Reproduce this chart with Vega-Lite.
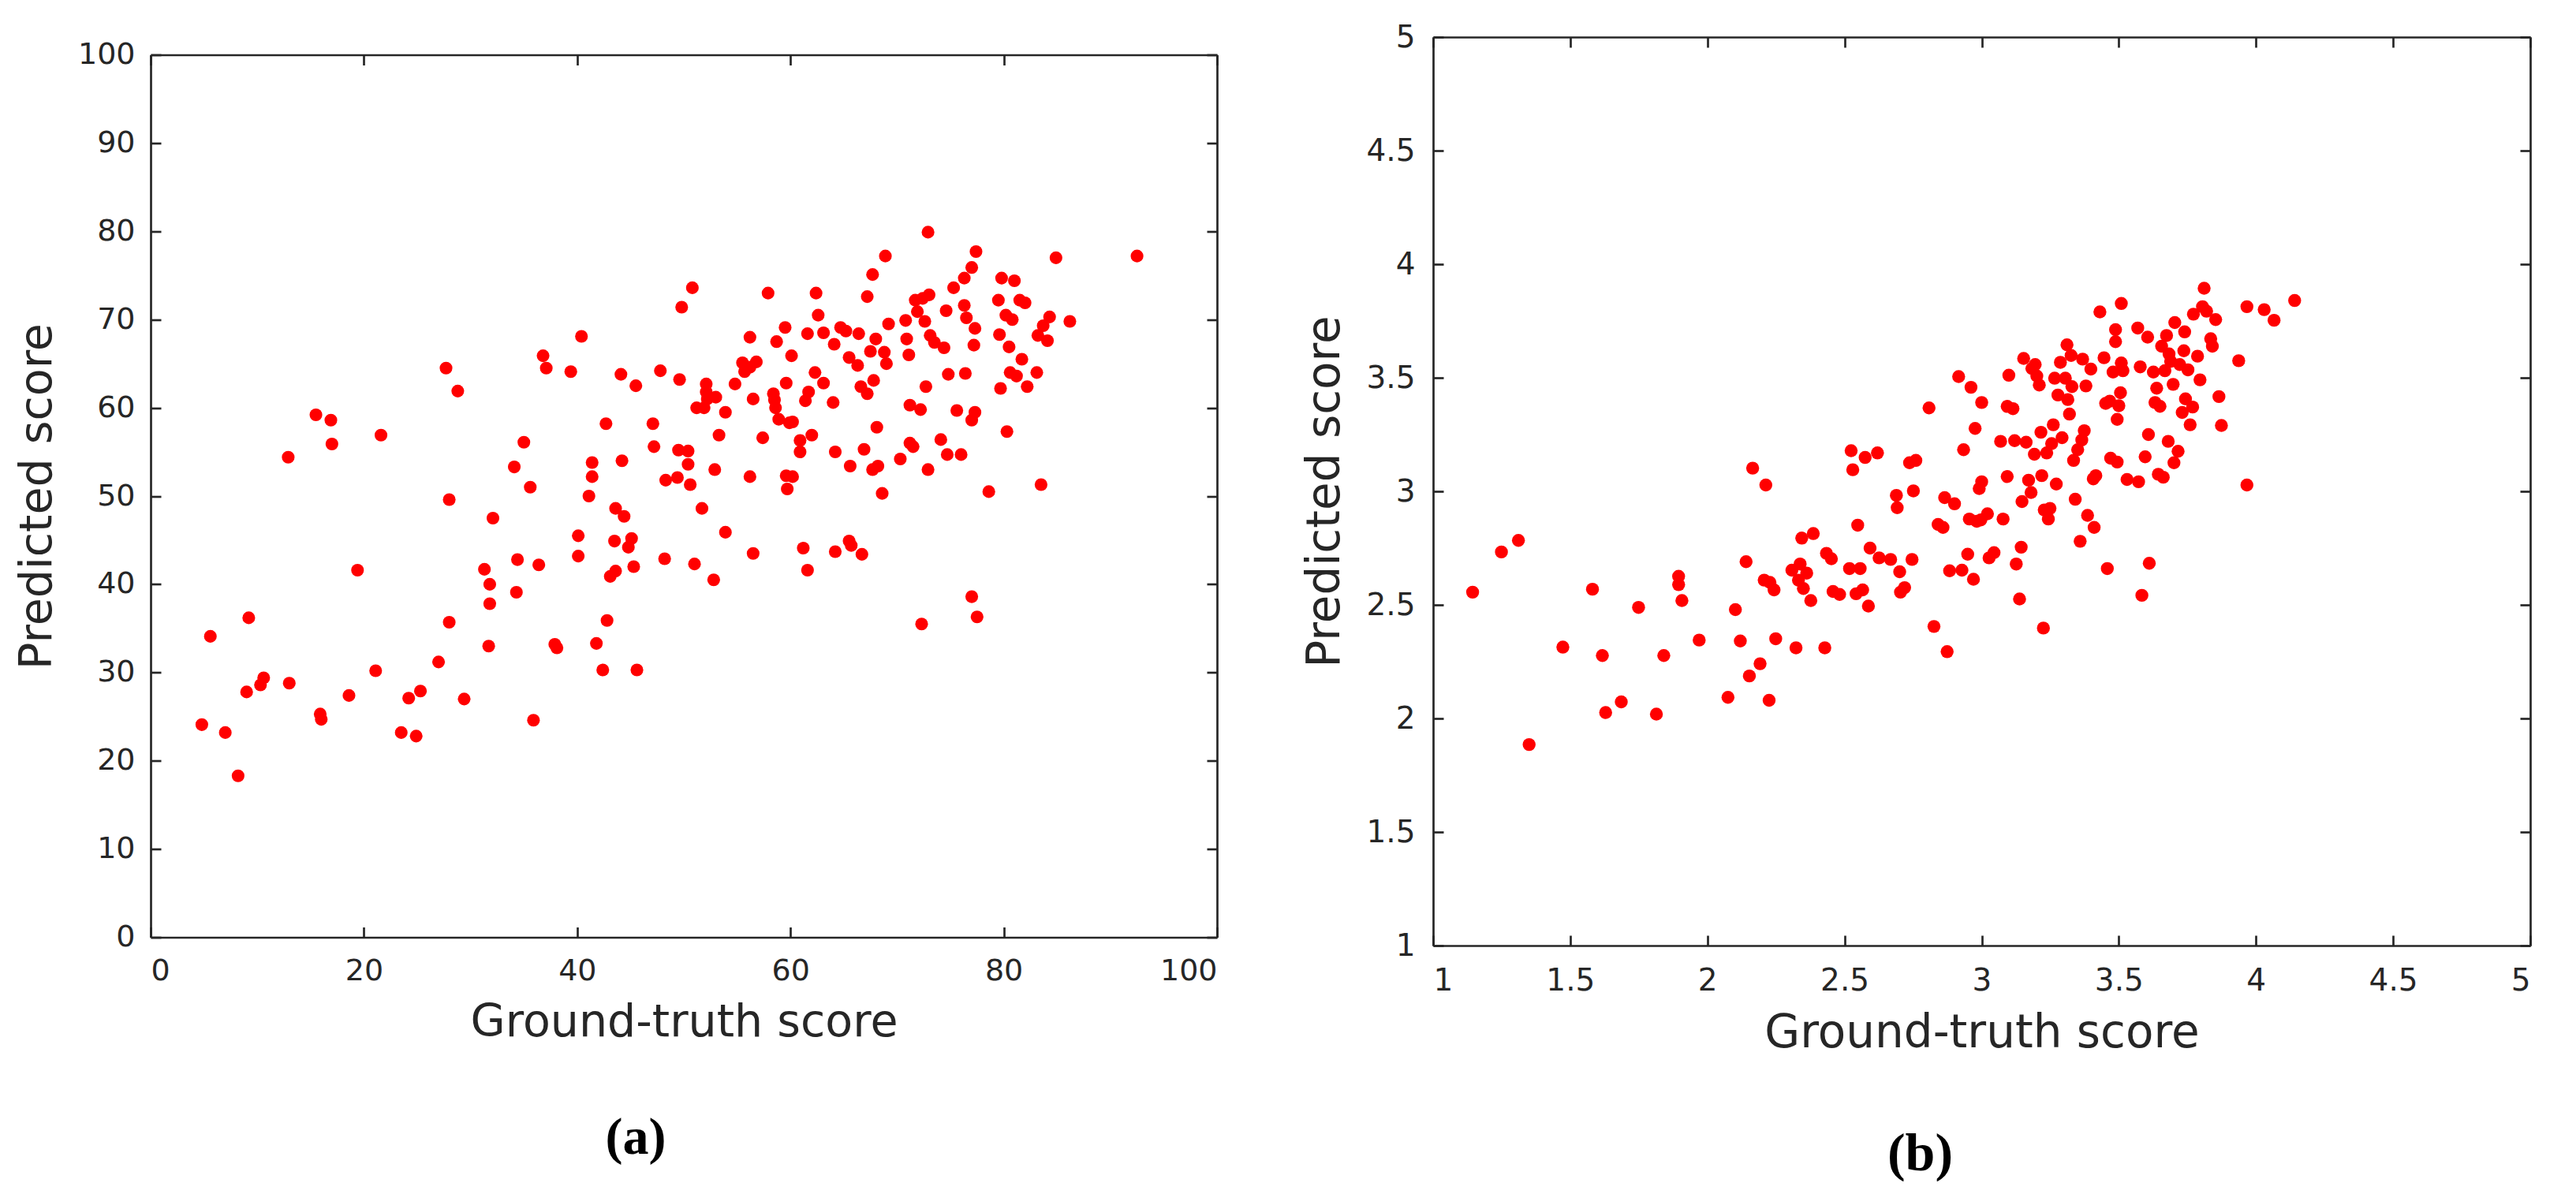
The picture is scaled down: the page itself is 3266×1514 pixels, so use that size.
{
  "$schema": "https://vega.github.io/schema/vega-lite/v6.json",
  "background": "white",
  "padding": {"left": 18, "top": 28, "right": 0, "bottom": 0},
  "spacing": 106,
  "center": true,
  "config": {
    "view": {"stroke": null},
    "axis": {
      "domainColor": "#262626", "domainWidth": 2.7, "tickColor": "#262626", "tickWidth": 2.7,
      "labelColor": "#262626", "titleColor": "#262626", "labelFont": "DejaVu Sans", "titleFont": "DejaVu Sans",
      "titleFontWeight": "normal", "grid": false, "tickSize": -13
    }
  },
  "datasets": {
    "a": [
      {"gt":4.8,"pred":24.1},{"gt":5.6,"pred":34.1},{"gt":7.0,"pred":23.2},{"gt":8.2,"pred":18.3},{"gt":9.2,"pred":36.2},{"gt":9.0,"pred":27.8},{"gt":10.3,"pred":28.6},{"gt":10.6,"pred":29.4},{"gt":12.9,"pred":54.4},{"gt":13.0,"pred":28.8},
      {"gt":15.5,"pred":59.2},{"gt":15.9,"pred":25.3},{"gt":16.0,"pred":24.7},{"gt":16.9,"pred":58.6},{"gt":17.0,"pred":55.9},{"gt":18.6,"pred":27.4},{"gt":19.4,"pred":41.6},{"gt":21.1,"pred":30.2},{"gt":21.6,"pred":56.9},{"gt":23.5,"pred":23.2},
      {"gt":24.2,"pred":27.1},{"gt":24.9,"pred":22.8},{"gt":25.3,"pred":27.9},{"gt":27.0,"pred":31.2},{"gt":27.7,"pred":64.5},{"gt":28.0,"pred":35.7},{"gt":28.0,"pred":49.6},{"gt":28.8,"pred":61.9},{"gt":29.4,"pred":27.0},{"gt":31.3,"pred":41.7},
      {"gt":31.7,"pred":33.0},{"gt":31.8,"pred":40.0},{"gt":31.8,"pred":37.8},{"gt":32.1,"pred":47.5},{"gt":34.1,"pred":53.3},{"gt":34.3,"pred":39.1},{"gt":34.4,"pred":42.8},{"gt":35.0,"pred":56.1},{"gt":35.6,"pred":51.0},{"gt":35.9,"pred":24.6},
      {"gt":36.4,"pred":42.2},{"gt":36.8,"pred":65.9},{"gt":37.1,"pred":64.5},{"gt":37.9,"pred":33.2},{"gt":38.1,"pred":32.8},{"gt":39.4,"pred":64.1},{"gt":40.1,"pred":45.5},{"gt":40.1,"pred":43.2},{"gt":40.4,"pred":68.1},{"gt":41.1,"pred":50.0},
      {"gt":41.4,"pred":53.8},{"gt":41.4,"pred":52.2},{"gt":41.8,"pred":33.3},{"gt":42.4,"pred":30.3},{"gt":42.7,"pred":58.2},{"gt":42.8,"pred":35.9},{"gt":43.1,"pred":40.9},{"gt":43.5,"pred":44.9},{"gt":43.6,"pred":41.5},{"gt":43.6,"pred":48.6},
      {"gt":44.1,"pred":63.8},{"gt":44.2,"pred":54.0},{"gt":44.4,"pred":47.7},{"gt":44.8,"pred":44.2},{"gt":45.1,"pred":45.2},{"gt":45.3,"pred":42.0},{"gt":45.5,"pred":62.5},{"gt":45.6,"pred":30.3},{"gt":47.1,"pred":58.2},{"gt":47.2,"pred":55.6},
      {"gt":47.8,"pred":64.2},{"gt":48.2,"pred":42.9},{"gt":48.3,"pred":51.8},{"gt":49.4,"pred":52.1},{"gt":49.5,"pred":55.2},{"gt":49.6,"pred":63.2},{"gt":49.8,"pred":71.4},{"gt":50.4,"pred":55.1},{"gt":50.4,"pred":53.6},{"gt":50.6,"pred":51.3},
      {"gt":50.8,"pred":73.6},{"gt":51.0,"pred":42.3},{"gt":51.2,"pred":60.0},{"gt":51.7,"pred":48.6},{"gt":52.1,"pred":62.7},{"gt":52.1,"pred":61.8},{"gt":52.2,"pred":61.0},{"gt":51.9,"pred":60.0},{"gt":52.8,"pred":40.5},{"gt":52.9,"pred":53.0},
      {"gt":53.0,"pred":61.2},{"gt":53.3,"pred":56.9},{"gt":53.9,"pred":59.5},{"gt":53.9,"pred":45.9},{"gt":54.8,"pred":62.7},{"gt":55.5,"pred":65.1},{"gt":55.7,"pred":64.1},{"gt":56.2,"pred":64.6},{"gt":56.2,"pred":68.0},{"gt":56.2,"pred":52.2},
      {"gt":56.5,"pred":61.0},{"gt":56.5,"pred":43.5},{"gt":56.8,"pred":65.2},{"gt":57.4,"pred":56.6},{"gt":57.9,"pred":73.0},{"gt":58.4,"pred":61.6},{"gt":58.5,"pred":60.9},{"gt":58.6,"pred":60.0},{"gt":58.7,"pred":67.5},{"gt":58.9,"pred":58.7},
      {"gt":59.5,"pred":69.1},{"gt":59.6,"pred":62.8},{"gt":59.6,"pred":52.3},{"gt":59.7,"pred":50.8},{"gt":59.9,"pred":58.3},{"gt":60.1,"pred":65.9},{"gt":60.2,"pred":58.4},{"gt":60.2,"pred":52.2},{"gt":60.9,"pred":56.3},{"gt":60.9,"pred":55.0},
      {"gt":61.2,"pred":44.1},{"gt":61.4,"pred":60.8},{"gt":61.6,"pred":68.4},{"gt":61.6,"pred":41.6},{"gt":61.7,"pred":61.8},{"gt":62.0,"pred":56.9},{"gt":62.3,"pred":64.0},{"gt":62.4,"pred":73.0},{"gt":62.6,"pred":70.5},{"gt":63.1,"pred":68.5},
      {"gt":63.1,"pred":62.8},{"gt":64.1,"pred":67.2},{"gt":64.0,"pred":60.6},{"gt":64.2,"pred":55.0},{"gt":64.2,"pred":43.7},{"gt":64.7,"pred":69.1},{"gt":65.2,"pred":68.7},{"gt":65.5,"pred":65.7},{"gt":65.6,"pred":53.4},{"gt":65.5,"pred":44.9},
      {"gt":65.7,"pred":44.4},{"gt":66.3,"pred":64.8},{"gt":66.4,"pred":68.4},{"gt":66.6,"pred":62.4},{"gt":66.7,"pred":43.4},{"gt":66.9,"pred":55.3},{"gt":67.2,"pred":72.6},{"gt":67.2,"pred":61.6},{"gt":67.5,"pred":66.4},{"gt":67.7,"pred":75.1},
      {"gt":67.8,"pred":63.1},{"gt":67.7,"pred":53.0},{"gt":68.0,"pred":67.8},{"gt":68.1,"pred":57.8},{"gt":68.2,"pred":53.4},{"gt":68.6,"pred":50.3},{"gt":68.9,"pred":77.2},{"gt":68.8,"pred":66.3},{"gt":69.0,"pred":65.0},{"gt":69.2,"pred":69.5},
      {"gt":70.3,"pred":54.2},{"gt":70.9,"pred":67.8},{"gt":70.8,"pred":69.9},{"gt":71.1,"pred":66.0},{"gt":71.2,"pred":60.3},{"gt":71.2,"pred":56.0},{"gt":71.5,"pred":55.6},{"gt":71.7,"pred":72.2},{"gt":71.9,"pred":70.9},{"gt":72.2,"pred":59.8},
      {"gt":72.3,"pred":35.5},{"gt":72.4,"pred":72.4},{"gt":72.6,"pred":69.8},{"gt":72.7,"pred":62.4},{"gt":72.9,"pred":79.9},{"gt":72.9,"pred":53.0},{"gt":73.0,"pred":72.8},{"gt":73.1,"pred":68.2},{"gt":73.5,"pred":67.4},{"gt":74.1,"pred":56.4},
      {"gt":74.4,"pred":66.8},{"gt":74.6,"pred":71.0},{"gt":74.7,"pred":54.7},{"gt":74.8,"pred":63.8},{"gt":75.3,"pred":73.6},{"gt":75.6,"pred":59.7},{"gt":76.0,"pred":54.7},{"gt":76.3,"pred":71.6},{"gt":76.3,"pred":74.7},{"gt":76.4,"pred":63.9},
      {"gt":76.5,"pred":70.2},{"gt":77.0,"pred":58.6},{"gt":77.0,"pred":38.6},{"gt":77.0,"pred":75.9},{"gt":77.2,"pred":67.1},{"gt":77.3,"pred":69.0},{"gt":77.3,"pred":59.5},{"gt":77.4,"pred":77.7},{"gt":77.5,"pred":36.3},{"gt":78.6,"pred":50.5},
      {"gt":79.5,"pred":72.2},{"gt":79.6,"pred":68.3},{"gt":79.7,"pred":62.2},{"gt":79.8,"pred":74.7},{"gt":80.2,"pred":70.5},{"gt":80.3,"pred":57.3},{"gt":80.5,"pred":66.9},{"gt":80.6,"pred":64.0},{"gt":80.8,"pred":70.0},{"gt":81.0,"pred":74.4},
      {"gt":81.2,"pred":63.6},{"gt":81.5,"pred":72.2},{"gt":81.7,"pred":65.5},{"gt":82.0,"pred":71.9},{"gt":82.2,"pred":62.4},{"gt":83.1,"pred":64.0},{"gt":83.2,"pred":68.2},{"gt":83.5,"pred":51.3},{"gt":83.7,"pred":69.3},{"gt":84.1,"pred":67.6},
      {"gt":84.3,"pred":70.3},{"gt":84.9,"pred":77.0},{"gt":86.2,"pred":69.8},{"gt":92.5,"pred":77.2}
    ],
    "b": [
      {"gt":1.144,"pred":2.556},{"gt":1.249,"pred":2.733},{"gt":1.311,"pred":2.784},{"gt":1.350,"pred":1.885},{"gt":1.473,"pred":2.314},{"gt":1.581,"pred":2.569},{"gt":1.617,"pred":2.277},{"gt":1.629,"pred":2.026},{"gt":1.686,"pred":2.073},{"gt":1.749,"pred":2.489},
      {"gt":1.814,"pred":2.019},{"gt":1.841,"pred":2.277},{"gt":1.895,"pred":2.626},{"gt":1.895,"pred":2.589},{"gt":1.907,"pred":2.519},{"gt":1.970,"pred":2.345},{"gt":2.075,"pred":2.093},{"gt":2.102,"pred":2.479},{"gt":2.120,"pred":2.341},{"gt":2.141,"pred":2.690},
      {"gt":2.153,"pred":2.187},{"gt":2.165,"pred":3.102},{"gt":2.192,"pred":2.241},{"gt":2.207,"pred":2.609},{"gt":2.213,"pred":3.028},{"gt":2.225,"pred":2.080},{"gt":2.228,"pred":2.599},{"gt":2.243,"pred":2.566},{"gt":2.249,"pred":2.351},{"gt":2.308,"pred":2.653},
      {"gt":2.323,"pred":2.311},{"gt":2.332,"pred":2.609},{"gt":2.338,"pred":2.680},{"gt":2.344,"pred":2.794},{"gt":2.350,"pred":2.572},{"gt":2.362,"pred":2.640},{"gt":2.377,"pred":2.519},{"gt":2.386,"pred":2.814},{"gt":2.428,"pred":2.311},{"gt":2.434,"pred":2.727},
      {"gt":2.452,"pred":2.703},{"gt":2.458,"pred":2.559},{"gt":2.482,"pred":2.546},{"gt":2.518,"pred":2.660},{"gt":2.524,"pred":3.179},{"gt":2.530,"pred":3.095},{"gt":2.542,"pred":2.549},{"gt":2.548,"pred":2.851},{"gt":2.557,"pred":2.660},{"gt":2.566,"pred":2.566},
      {"gt":2.575,"pred":3.149},{"gt":2.587,"pred":2.495},{"gt":2.593,"pred":2.750},{"gt":2.620,"pred":3.169},{"gt":2.626,"pred":2.707},{"gt":2.668,"pred":2.700},{"gt":2.689,"pred":2.982},{"gt":2.692,"pred":2.928},{"gt":2.701,"pred":2.646},{"gt":2.704,"pred":2.556},
      {"gt":2.719,"pred":2.576},{"gt":2.737,"pred":3.126},{"gt":2.746,"pred":2.700},{"gt":2.751,"pred":3.002},{"gt":2.760,"pred":3.136},{"gt":2.808,"pred":3.367},{"gt":2.826,"pred":2.405},{"gt":2.841,"pred":2.854},{"gt":2.859,"pred":2.841},{"gt":2.865,"pred":2.972},
      {"gt":2.874,"pred":2.294},{"gt":2.883,"pred":2.650},{"gt":2.901,"pred":2.945},{"gt":2.916,"pred":3.505},{"gt":2.928,"pred":2.653},{"gt":2.934,"pred":3.183},{"gt":2.949,"pred":2.723},{"gt":2.955,"pred":2.878},{"gt":2.961,"pred":3.458},{"gt":2.970,"pred":2.613},
      {"gt":2.976,"pred":3.277},{"gt":2.982,"pred":2.868},{"gt":2.991,"pred":3.012},{"gt":3.000,"pred":3.391},{"gt":3.000,"pred":3.042},{"gt":2.997,"pred":2.874},{"gt":3.021,"pred":2.901},{"gt":3.027,"pred":2.707},{"gt":3.045,"pred":2.730},{"gt":3.069,"pred":3.220},
      {"gt":3.078,"pred":2.878},{"gt":3.093,"pred":3.065},{"gt":3.093,"pred":3.374},{"gt":3.099,"pred":3.511},{"gt":3.114,"pred":3.364},{"gt":3.120,"pred":3.223},{"gt":3.126,"pred":2.680},{"gt":3.138,"pred":2.526},{"gt":3.144,"pred":2.754},{"gt":3.147,"pred":2.955},
      {"gt":3.153,"pred":3.585},{"gt":3.162,"pred":3.216},{"gt":3.171,"pred":3.049},{"gt":3.180,"pred":2.995},{"gt":3.183,"pred":3.541},{"gt":3.192,"pred":3.163},{"gt":3.195,"pred":3.558},{"gt":3.201,"pred":3.508},{"gt":3.210,"pred":3.468},{"gt":3.216,"pred":3.260},
      {"gt":3.219,"pred":3.069},{"gt":3.225,"pred":2.398},{"gt":3.228,"pred":2.918},{"gt":3.237,"pred":3.169},{"gt":3.243,"pred":2.878},{"gt":3.249,"pred":2.925},{"gt":3.255,"pred":3.210},{"gt":3.261,"pred":3.293},{"gt":3.266,"pred":3.498},{"gt":3.272,"pred":3.032},
      {"gt":3.278,"pred":3.424},{"gt":3.287,"pred":3.568},{"gt":3.293,"pred":3.236},{"gt":3.305,"pred":3.498},{"gt":3.311,"pred":3.645},{"gt":3.314,"pred":3.404},{"gt":3.320,"pred":3.340},{"gt":3.326,"pred":3.598},{"gt":3.329,"pred":3.461},{"gt":3.335,"pred":3.136},
      {"gt":3.341,"pred":2.965},{"gt":3.350,"pred":3.183},{"gt":3.359,"pred":2.780},{"gt":3.365,"pred":3.226},{"gt":3.368,"pred":3.582},{"gt":3.374,"pred":3.267},{"gt":3.380,"pred":3.464},{"gt":3.386,"pred":2.894},{"gt":3.398,"pred":3.538},{"gt":3.407,"pred":3.055},
      {"gt":3.410,"pred":2.841},{"gt":3.416,"pred":3.069},{"gt":3.431,"pred":3.790},{"gt":3.446,"pred":3.588},{"gt":3.452,"pred":3.387},{"gt":3.458,"pred":2.660},{"gt":3.467,"pred":3.397},{"gt":3.470,"pred":3.146},{"gt":3.479,"pred":3.525},{"gt":3.488,"pred":3.712},
      {"gt":3.488,"pred":3.659},{"gt":3.494,"pred":3.317},{"gt":3.494,"pred":3.129},{"gt":3.500,"pred":3.377},{"gt":3.506,"pred":3.434},{"gt":3.509,"pred":3.827},{"gt":3.509,"pred":3.565},{"gt":3.515,"pred":3.531},{"gt":3.530,"pred":3.052},{"gt":3.572,"pred":3.042},
      {"gt":3.569,"pred":3.719},{"gt":3.578,"pred":3.548},{"gt":3.584,"pred":2.542},{"gt":3.596,"pred":3.152},{"gt":3.605,"pred":3.679},{"gt":3.608,"pred":3.250},{"gt":3.611,"pred":2.683},{"gt":3.626,"pred":3.525},{"gt":3.632,"pred":3.391},{"gt":3.638,"pred":3.454},
      {"gt":3.644,"pred":3.075},{"gt":3.650,"pred":3.374},{"gt":3.656,"pred":3.639},{"gt":3.662,"pred":3.062},{"gt":3.668,"pred":3.531},{"gt":3.674,"pred":3.686},{"gt":3.680,"pred":3.220},{"gt":3.683,"pred":3.605},{"gt":3.689,"pred":3.572},{"gt":3.698,"pred":3.471},
      {"gt":3.701,"pred":3.126},{"gt":3.704,"pred":3.743},{"gt":3.716,"pred":3.176},{"gt":3.722,"pred":3.558},{"gt":3.731,"pred":3.347},{"gt":3.737,"pred":3.619},{"gt":3.740,"pred":3.702},{"gt":3.743,"pred":3.407},{"gt":3.752,"pred":3.535},{"gt":3.760,"pred":3.293},
      {"gt":3.769,"pred":3.371},{"gt":3.772,"pred":3.780},{"gt":3.787,"pred":3.595},{"gt":3.796,"pred":3.491},{"gt":3.805,"pred":3.813},{"gt":3.811,"pred":3.894},{"gt":3.820,"pred":3.793},{"gt":3.835,"pred":3.672},{"gt":3.841,"pred":3.639},{"gt":3.853,"pred":3.756},
      {"gt":3.865,"pred":3.417},{"gt":3.874,"pred":3.290},{"gt":3.937,"pred":3.575},{"gt":3.967,"pred":3.028},{"gt":3.967,"pred":3.813},{"gt":4.030,"pred":3.800},{"gt":4.066,"pred":3.753},{"gt":4.141,"pred":3.840}
    ]
  },
  "hconcat": [
    {
      "width": 1352, "height": 1119,
      "data": {"name": "a"},
      "title": {"text": "(a)", "orient": "bottom", "anchor": "middle", "frame": "group", "dx": -61, "font": "Liberation Serif", "fontSize": 66, "fontWeight": "bold", "color": "#000000", "offset": 86},
      "layer": [
        {
          "mark": {"type": "circle", "size": 260, "color": "#ff0000", "opacity": 1},
          "encoding": {
            "x": {"field": "gt", "type": "quantitative", "scale": {"domain": [0, 100], "nice": false, "zero": false},
              "axis": {"orient": "bottom", "values": [0, 20, 40, 60, 80, 100], "title": "Ground-truth score", "labelFontSize": 38, "titleFontSize": 57, "labelPadding": 37, "titlePadding": 18}},
            "y": {"field": "pred", "type": "quantitative", "scale": {"domain": [0, 100], "nice": false, "zero": false},
              "axis": {"orient": "left", "values": [0, 10, 20, 30, 40, 50, 60, 70, 80, 90, 100], "title": "Predicted score", "labelFontSize": 38, "titleFontSize": 57, "labelPadding": 33, "titlePadding": 22}}
          }
        },
        {
          "mark": {"type": "circle", "opacity": 0},
          "encoding": {
            "x": {"field": "gt", "type": "quantitative", "scale": {"domain": [0, 100], "nice": false, "zero": false},
              "axis": {"orient": "top", "values": [0, 20, 40, 60, 80, 100], "title": null, "labels": false}},
            "y": {"field": "pred", "type": "quantitative", "scale": {"domain": [0, 100], "nice": false, "zero": false},
              "axis": {"orient": "right", "values": [0, 10, 20, 30, 40, 50, 60, 70, 80, 90, 100], "title": null, "labels": false}}
          }
        }
      ],
      "resolve": {"axis": {"x": "independent", "y": "independent"}}
    },
    {
      "width": 1391, "height": 1152,
      "data": {"name": "b"},
      "title": {"text": "(b)", "orient": "bottom", "anchor": "middle", "frame": "group", "dx": -78, "font": "Liberation Serif", "fontSize": 68, "fontWeight": "bold", "color": "#000000", "offset": 91},
      "layer": [
        {
          "mark": {"type": "circle", "size": 270, "color": "#ff0000", "opacity": 1},
          "encoding": {
            "x": {"field": "gt", "type": "quantitative", "scale": {"domain": [1, 5], "nice": false, "zero": false},
              "axis": {"orient": "bottom", "values": [1, 1.5, 2, 2.5, 3, 3.5, 4, 4.5, 5], "format": "~g", "title": "Ground-truth score", "labelFontSize": 39, "titleFontSize": 58, "labelPadding": 38, "titlePadding": 18}},
            "y": {"field": "pred", "type": "quantitative", "scale": {"domain": [1, 5], "nice": false, "zero": false},
              "axis": {"orient": "left", "values": [1, 1.5, 2, 2.5, 3, 3.5, 4, 4.5, 5], "format": "~g", "title": "Predicted score", "labelFontSize": 39, "titleFontSize": 58, "labelPadding": 36, "titlePadding": 22}}
          }
        },
        {
          "mark": {"type": "circle", "opacity": 0},
          "encoding": {
            "x": {"field": "gt", "type": "quantitative", "scale": {"domain": [1, 5], "nice": false, "zero": false},
              "axis": {"orient": "top", "values": [1, 1.5, 2, 2.5, 3, 3.5, 4, 4.5, 5], "title": null, "labels": false}},
            "y": {"field": "pred", "type": "quantitative", "scale": {"domain": [1, 5], "nice": false, "zero": false},
              "axis": {"orient": "right", "values": [1, 1.5, 2, 2.5, 3, 3.5, 4, 4.5, 5], "title": null, "labels": false}}
          }
        }
      ],
      "resolve": {"axis": {"x": "independent", "y": "independent"}}
    }
  ]
}
